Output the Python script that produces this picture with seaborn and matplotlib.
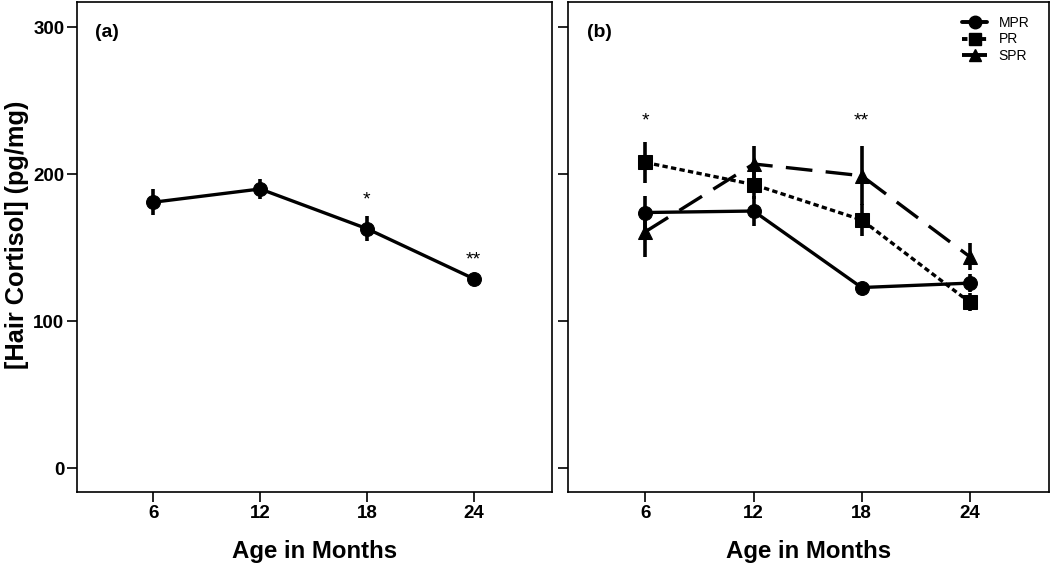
import matplotlib
matplotlib.use("Agg")
import matplotlib.pyplot as plt
import seaborn as sns
import pandas as pd
from matplotlib.lines import Line2D

# ---- data ----
ages = [6, 12, 18, 24]

all_mean = [181, 190, 163, 129]
all_err = [9, 6.5, 8.5, 2]
all_sig = ["", "", "*", "**"]

mpr_mean = [174, 175, 123, 126]
mpr_err = [11, 10, 3, 6]
pr_mean = [208, 193, 169, 113]
pr_err = [14, 10, 11, 6]
spr_mean = [161, 207, 199, 144]
spr_err = [17, 12, 20, 9]
groups = ["MPR", "PR", "SPR"]
b_sig = ["*", "", "**", ""]

y_ticks = [0, 100, 200, 300]

sns.set_theme(style="white")
plt.rcParams['font.family'] = ['Liberation Sans', 'DejaVu Sans']
plt.rcParams['font.weight'] = 'bold'
for k in ["text.color", "axes.labelcolor", "xtick.color", "ytick.color", "axes.edgecolor"]:
    plt.rcParams[k] = "black"

fig = plt.figure(figsize=(10.5, 5.65), dpi=100)
axa = fig.add_axes([0.0733, 0.1292, 0.4524, 0.867])
axb = fig.add_axes([0.541, 0.1292, 0.458, 0.867])

lw = 2.4
ms = 10

# panel a
dfa = pd.DataFrame({"age": ages, "val": all_mean})
axa.errorbar(ages, all_mean, yerr=all_err, fmt="none", ecolor="black", elinewidth=2.6, capsize=0, zorder=2)
sns.lineplot(data=dfa, x="age", y="val", ax=axa, color="black", lw=lw, marker="o",
             markersize=ms, markeredgecolor="black", zorder=3)
for a, m, e, s in zip(ages, all_mean, all_err, all_sig):
    if s:
        axa.text(a, m + e + 11, s, ha="center", va="center", fontsize=14, fontweight="normal")

# panel b
rows = []
for g, vals in zip(groups, [mpr_mean, pr_mean, spr_mean]):
    for a, v in zip(ages, vals):
        rows.append({"age": a, "val": v, "grp": g})
dfb = pd.DataFrame(rows)
for vals, errs in zip([mpr_mean, pr_mean, spr_mean], [mpr_err, pr_err, spr_err]):
    axb.errorbar(ages, vals, yerr=errs, fmt="none", ecolor="black", elinewidth=2.6, capsize=0, zorder=2)
sns.lineplot(data=dfb, x="age", y="val", hue="grp", style="grp", ax=axb,
             palette={g: "black" for g in groups},
             dashes={"MPR": "", "PR": (1.6, 1.0), "SPR": (8, 4)},
             markers={"MPR": "o", "PR": "s", "SPR": "^"},
             markersize=ms, markeredgecolor="black", lw=lw, zorder=3, legend=False)
for a, s in zip(ages, b_sig):
    if s:
        axb.text(a, 236, s, ha="center", va="center", fontsize=14, fontweight="normal")

handles = [
    Line2D([], [], color="black", lw=2.8, marker="o", markersize=9),
    Line2D([], [], color="black", lw=2.8, ls=(0, (1.4, 1.0)), marker="s", markersize=9),
    Line2D([], [], color="black", lw=2.8, ls=(0, (8, 4)), marker="^", markersize=9),
]
axb.legend(handles, groups, loc="upper right", bbox_to_anchor=(0.985, 0.998), frameon=False,
           handlelength=1.8, handletextpad=0.8, labelspacing=0.2,
           prop={"family": "Liberation Sans", "weight": "normal", "size": 10})

for ax in (axa, axb):
    ax.set_xlim(1.7, 28.4)
    ax.set_ylim(-16, 317)
    ax.set_xticks(ages)
    ax.set_yticks(y_ticks)
    ax.tick_params(axis="both", direction="out", length=7, width=1.2, color="black",
                   labelsize=13.5, bottom=True, left=True, pad=2)
    for lab in ax.get_xticklabels() + ax.get_yticklabels():
        lab.set_fontweight("bold")
    for sp in ax.spines.values():
        sp.set_color("black")
        sp.set_linewidth(1.2)
    ax.set_xlabel("Age in Months", fontsize=17.3, fontweight="bold", labelpad=13)
    ax.set_ylabel("")

axa.set_ylabel("[Hair Cortisol] (pg/mg)", fontsize=18.3, fontweight="bold")
axa.yaxis.set_label_coords(-0.1, 0.525)
axb.set_yticklabels([])

axa.text(0.037, 0.939, "(a)", transform=axa.transAxes, fontsize=14, fontweight="bold", va="center")
axb.text(0.04, 0.939, "(b)", transform=axb.transAxes, fontsize=14, fontweight="bold", va="center")

fig.savefig("out.png", dpi=100)
